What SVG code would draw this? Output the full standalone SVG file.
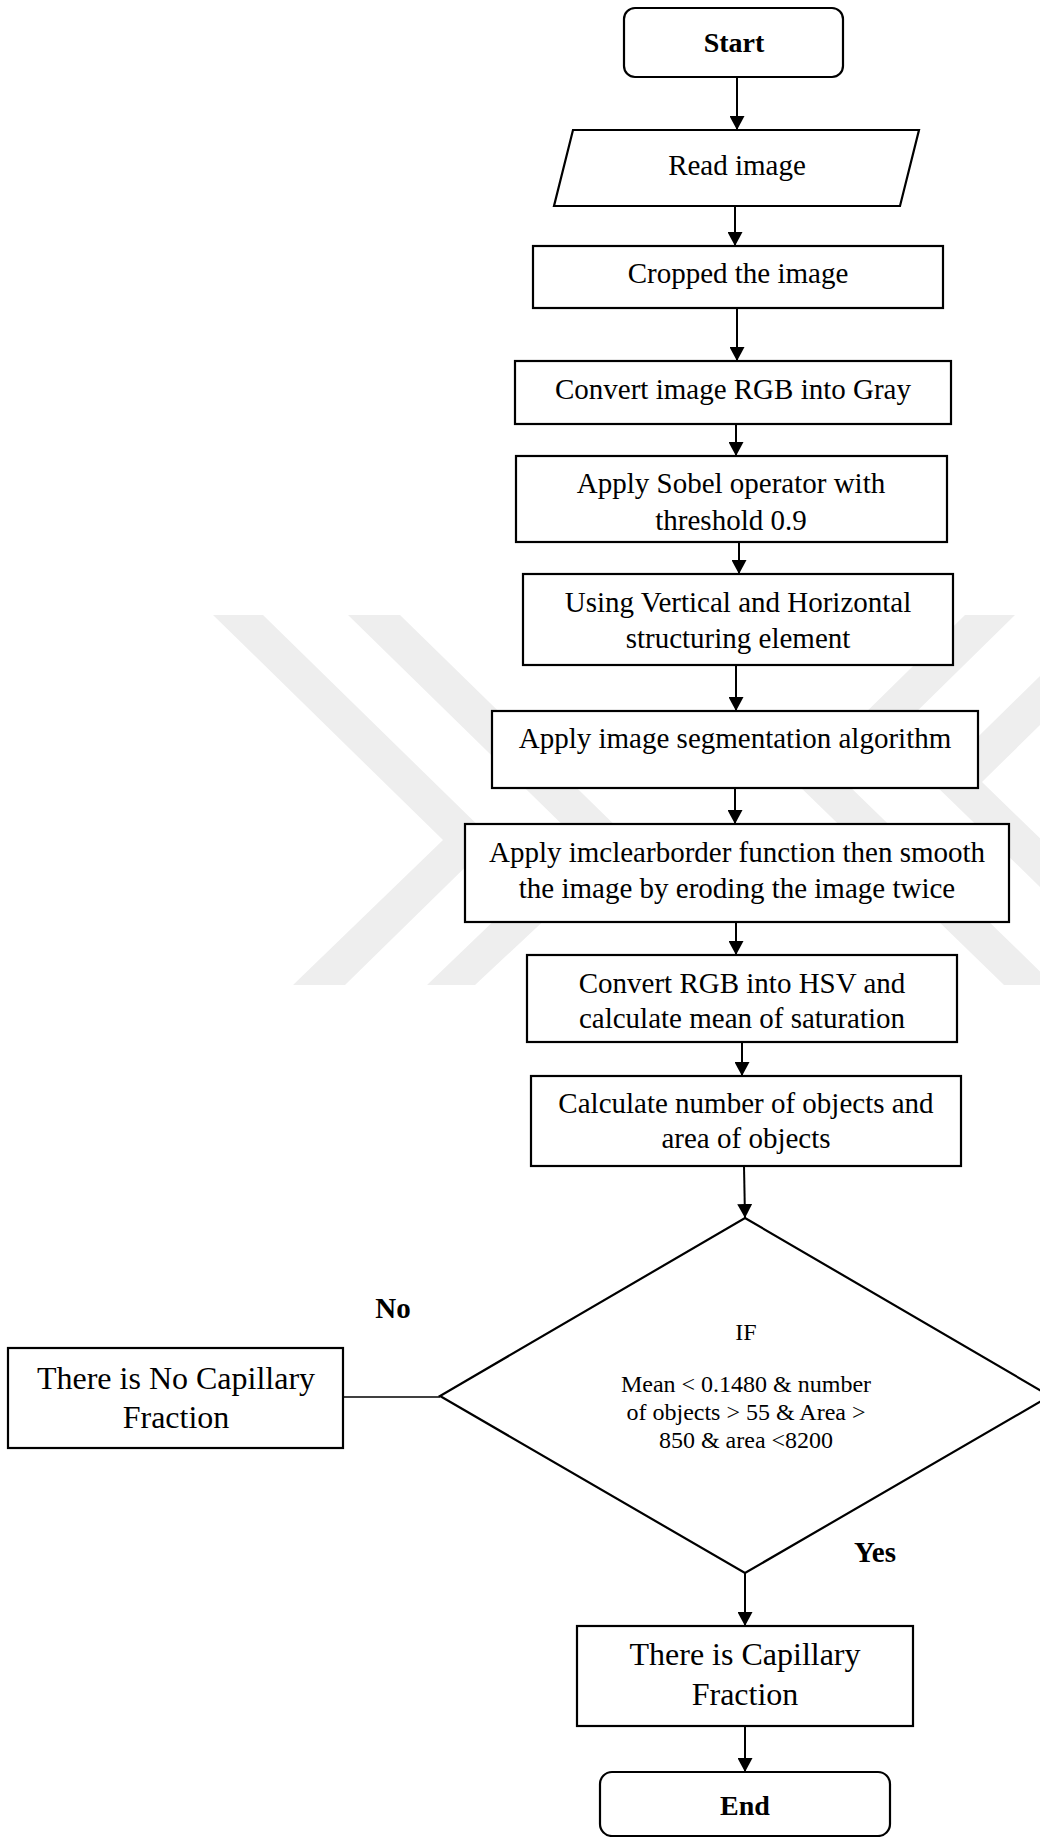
<svg xmlns="http://www.w3.org/2000/svg" width="1040" height="1837" viewBox="0 0 1040 1837">
<style>
.box{fill:#fff;stroke:#000;stroke-width:2.2}
.t{font-family:"Liberation Serif","Times New Roman",serif;font-size:29px;fill:#000;text-anchor:middle}
.big{font-size:32px}
.small{font-size:24px}
.b{font-weight:bold}
.wm{fill:#eeeeee}
.c{stroke:#000;stroke-width:2;fill:none}
</style>
<defs>
<marker id="ah" viewBox="0 0 14 15" refX="14" refY="7.5" markerWidth="14" markerHeight="15" markerUnits="userSpaceOnUse" orient="auto">
<path d="M0,0 L14,7.5 L0,15 z" fill="#000"/>
</marker>
</defs>
<rect width="1040" height="1837" fill="#fff"/>
<g id="watermark">
<polygon class="wm" points="213,615 263,615 493,840 345,985 293,985 443,840"/>
<polygon class="wm" points="348,615 400,615 630,840 475,985 427,985 578,840"/>
<polygon class="wm" points="965,615 1015,615 845,782 1054,985 1004,985 795,782"/>
<polygon class="wm" points="1102,615 1152,615 982,782 1191,985 1141,985 932,782"/>
</g>
<g id="connectors">
<line class="c" x1="737" y1="77" x2="737" y2="130" marker-end="url(#ah)"/>
<line class="c" x1="735" y1="206" x2="735" y2="246" marker-end="url(#ah)"/>
<line class="c" x1="737" y1="308" x2="737" y2="361" marker-end="url(#ah)"/>
<line class="c" x1="736" y1="424" x2="736" y2="456" marker-end="url(#ah)"/>
<line class="c" x1="739" y1="542" x2="739" y2="574" marker-end="url(#ah)"/>
<line class="c" x1="736" y1="665" x2="736" y2="711" marker-end="url(#ah)"/>
<line class="c" x1="735" y1="788" x2="735" y2="824" marker-end="url(#ah)"/>
<line class="c" x1="736" y1="922" x2="736" y2="955" marker-end="url(#ah)"/>
<line class="c" x1="742" y1="1042" x2="742" y2="1076" marker-end="url(#ah)"/>
<line class="c" x1="744" y1="1166" x2="745" y2="1218" marker-end="url(#ah)"/>
<line class="c" x1="745" y1="1573" x2="745" y2="1626" marker-end="url(#ah)"/>
<line class="c" x1="745" y1="1726" x2="745" y2="1772" marker-end="url(#ah)"/>
<line x1="343" y1="1397" x2="440" y2="1397" stroke="#000" stroke-width="1.3"/>
</g>
<g id="start">
<rect class="box" x="624" y="8" width="219" height="69" rx="11"/>
<text class="t b" x="734" y="52" font-size="28" style="font-size:28px">Start</text>
</g>
<g id="read">
<polygon class="box" points="573,130 919,130 900,206 554,206"/>
<text class="t" x="737" y="175">Read image</text>
</g>
<g id="crop">
<rect class="box" x="533" y="246" width="410" height="62"/>
<text class="t" x="738" y="283">Cropped the image</text>
</g>
<g id="gray">
<rect class="box" x="515" y="361" width="436" height="63"/>
<text class="t" x="733" y="399">Convert image RGB into Gray</text>
</g>
<g id="sobel">
<rect class="box" x="516" y="456" width="431" height="86"/>
<text class="t" x="731" y="493">Apply Sobel operator with</text>
<text class="t" x="731" y="530">threshold 0.9</text>
</g>
<g id="struct">
<rect class="box" x="523" y="574" width="430" height="91"/>
<text class="t" x="738" y="612">Using Vertical and Horizontal</text>
<text class="t" x="738" y="648">structuring element</text>
</g>
<g id="seg">
<rect class="box" x="492" y="711" width="486" height="77"/>
<text class="t" x="735" y="748">Apply image segmentation algorithm</text>
</g>
<g id="clear">
<rect class="box" x="465" y="824" width="544" height="98"/>
<text class="t" x="737" y="862">Apply imclearborder function then smooth</text>
<text class="t" x="737" y="898">the image by eroding the image twice</text>
</g>
<g id="hsv">
<rect class="box" x="527" y="955" width="430" height="87"/>
<text class="t" x="742" y="993">Convert RGB into HSV and</text>
<text class="t" x="742" y="1028">calculate mean of saturation</text>
</g>
<g id="calc">
<rect class="box" x="531" y="1076" width="430" height="90"/>
<text class="t" x="746" y="1113">Calculate number of objects and</text>
<text class="t" x="746" y="1148">area of objects</text>
</g>
<g id="decision">
<polygon class="box" points="745,1218 1050,1396 745,1573 440,1396"/>
<text class="t small" x="746" y="1340">IF</text>
<text class="t small" x="746" y="1392">Mean &lt; 0.1480 &amp; number</text>
<text class="t small" x="746" y="1420">of objects &gt; 55 &amp; Area &gt;</text>
<text class="t small" x="746" y="1448">850 &amp; area &lt;8200</text>
</g>
<g id="label-no">
<text class="t b" x="393" y="1318">No</text>
</g>
<g id="label-yes">
<text class="t b" x="875" y="1562">Yes</text>
</g>
<g id="no-fraction">
<rect class="box" x="8" y="1348" width="335" height="100"/>
<text class="t big" x="176" y="1389">There is No Capillary</text>
<text class="t big" x="176" y="1428">Fraction</text>
</g>
<g id="yes-fraction">
<rect class="box" x="577" y="1626" width="336" height="100"/>
<text class="t big" x="745" y="1665">There is Capillary</text>
<text class="t big" x="745" y="1705">Fraction</text>
</g>
<g id="end">
<rect class="box" x="600" y="1772" width="290" height="64" rx="12"/>
<text class="t b" x="745" y="1815" style="font-size:28px">End</text>
</g>
</svg>
